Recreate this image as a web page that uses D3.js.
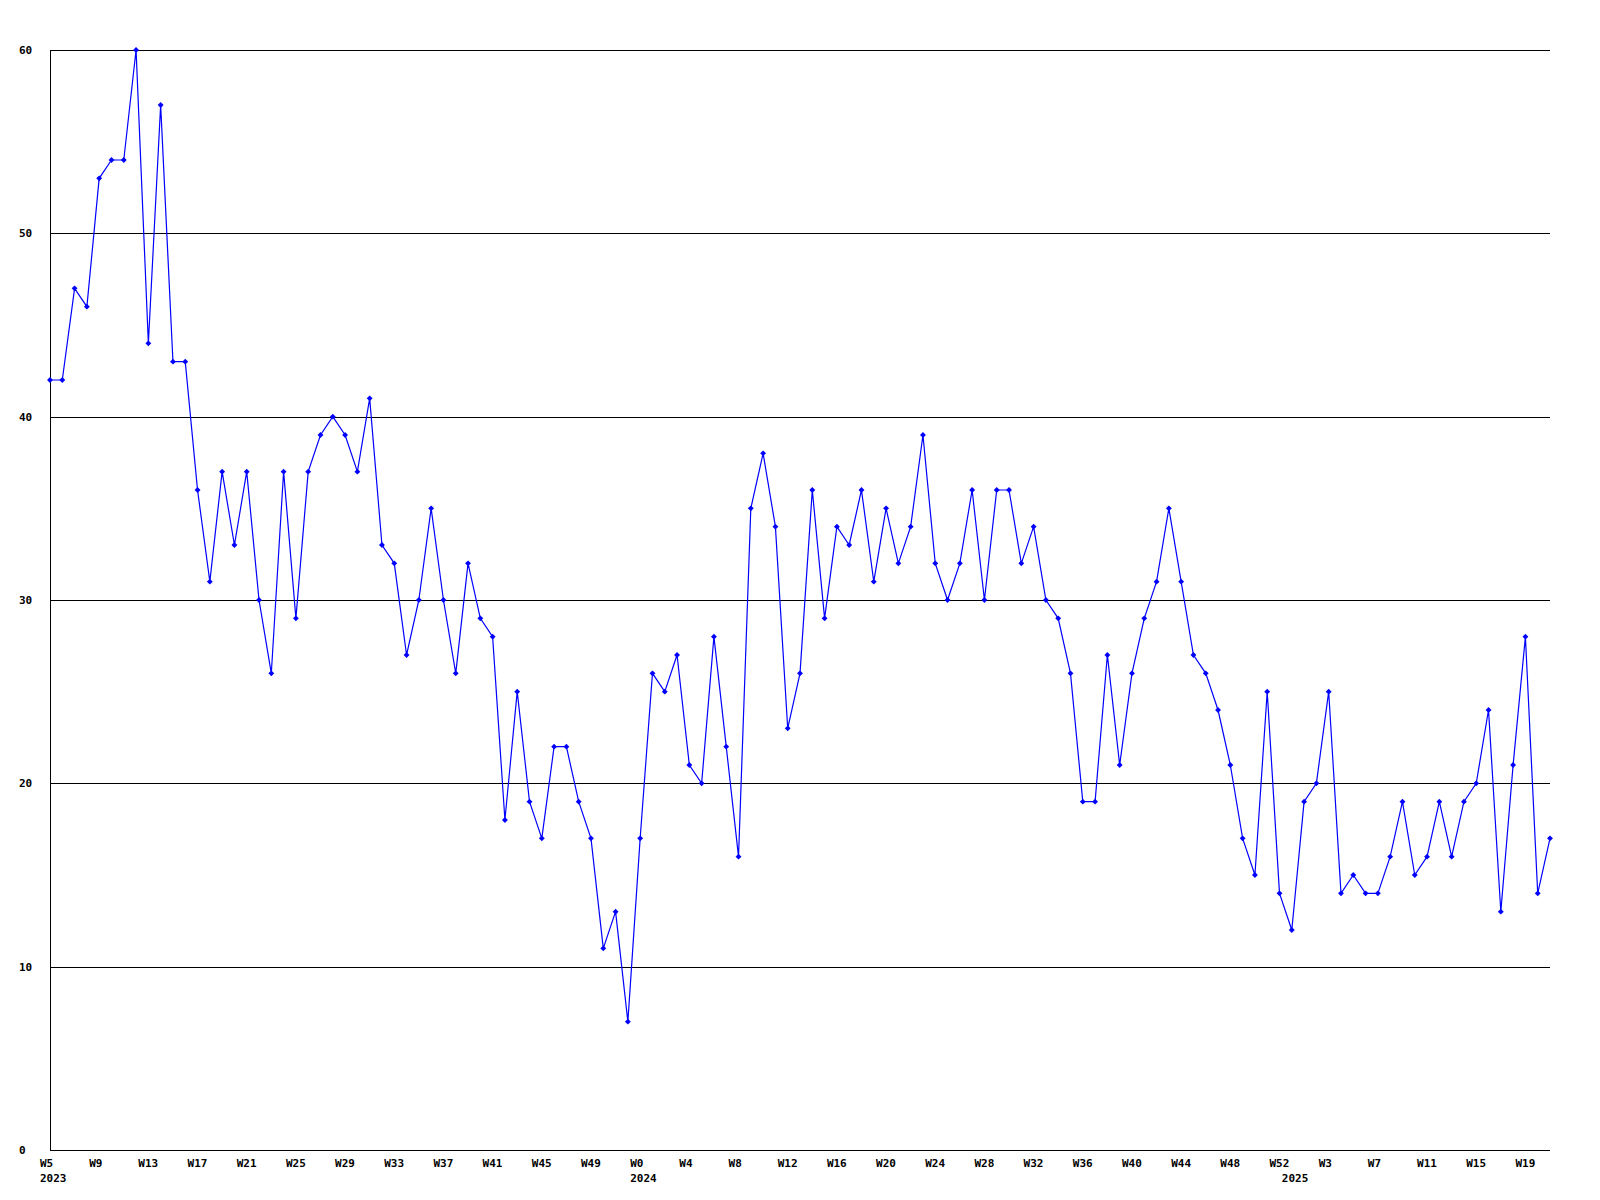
<!DOCTYPE html>
<html>
<head>
<meta charset="utf-8">
<script src="https://cdn.jsdelivr.net/npm/d3@7/dist/d3.min.js"></script>
<style>
  html, body { margin: 0; padding: 0; background: #ffffff; }
  svg { display: block; }
  text { font-family: "DejaVu Sans Mono", "Liberation Mono", monospace; font-weight: bold; font-size: 11px; fill: #000; }
</style>
</head>
<body>
<svg id="chart" width="1600" height="1200"></svg>
<script>
// ---- data ----
const years = ["2023", "2024", "2025"];
const weeks2023 = [5,6,7,8,9,10,11,12,13,14,15,16,17,18,19,20,21,22,23,24,25,26,27,28,29,30,31,32,33,34,35,36,37,38,39,40,41,42,43,44,45,46,47,48,49,50,51,52];
const weeks2024 = [0,1,2,3,4,5,6,7,8,9,10,11,12,13,14,15,16,17,18,19,20,21,22,23,24,25,26,27,28,29,30,31,32,33,34,35,36,37,38,39,40,41,42,43,44,45,46,47,48,49,50,51,52];
const weeks2025 = [0,1,2,3,4,5,6,7,8,9,10,11,12,13,14,15,16,17,18,19,20,21];
const values2023 = [42,42,47,46,53,54,54,60,44,57,43,43,36,31,37,33,37,30,26,37,29,37,39,40,39,37,41,33,32,27,30,35,30,26,32,29,28,18,25,19,17,22,22,19,17,11,13,7];
const values2024 = [17,26,25,27,21,20,28,22,16,35,38,34,23,26,36,29,34,33,36,31,35,32,34,39,32,30,32,36,30,36,36,32,34,30,29,26,19,19,27,21,26,29,31,35,31,27,26,24,21,17,15,25,14];
const values2025 = [12,19,20,25,14,15,14,14,16,19,15,16,19,16,19,20,24,13,21,28,14,17];
const yTicks = [0,10,20,30,40,50,60];
const labelEvery = 4;

(function () {
  // ---- build series ----
  const points = [];
  [[years[0], weeks2023, values2023], [years[1], weeks2024, values2024], [years[2], weeks2025, values2025]]
    .forEach(([yr, wks, vals]) => {
      wks.forEach((w, i) => points.push({ year: yr, week: w, value: vals[i], firstOfYear: i === 0 }));
    });
  points.forEach((p, i) => p.idx = i);

  // ---- layout ----
  const svg = d3.select("#chart");
  const mLeft = 50, mRight = 1550, mTop = 50, mBottom = 1150;

  const x = d3.scaleLinear().domain([0, points.length - 1]).range([mLeft, mRight]);
  const y = d3.scaleLinear().domain([0, 60]).range([mBottom, mTop]);

  // gridlines
  svg.append("g").selectAll("line").data(yTicks.filter(t => t > 0)).join("line")
    .attr("x1", mLeft).attr("x2", mRight)
    .attr("y1", d => Math.round(y(d)) + 0.5).attr("y2", d => Math.round(y(d)) + 0.5)
    .attr("stroke", "#000").attr("stroke-width", 1).attr("shape-rendering", "crispEdges");

  // axis lines
  svg.append("line").attr("x1", mLeft + 0.5).attr("x2", mLeft + 0.5).attr("y1", mTop).attr("y2", mBottom + 0.5)
    .attr("stroke", "#000").attr("shape-rendering", "crispEdges");
  svg.append("line").attr("x1", mLeft).attr("x2", mRight).attr("y1", mBottom + 0.5).attr("y2", mBottom + 0.5)
    .attr("stroke", "#000").attr("shape-rendering", "crispEdges");

  // y labels (left aligned)
  svg.append("g").selectAll("text").data(yTicks).join("text")
    .attr("x", 19).attr("y", d => y(d)).attr("dy", "0.36em")
    .text(d => d);

  // x labels
  svg.append("g").selectAll("text").data(points.filter(p => p.idx % labelEvery === 0)).join("text")
    .attr("x", p => x(p.idx) - 10).attr("y", 1167)
    .text(p => "W" + p.week);

  // year labels
  svg.append("g").selectAll("text").data(points.filter(p => p.firstOfYear)).join("text")
    .attr("x", p => x(p.idx) - 10).attr("y", 1182)
    .text(p => p.year);

  // line
  const line = d3.line().x(p => x(p.idx)).y(p => y(p.value));
  svg.append("path").datum(points).attr("d", line)
    .attr("fill", "none").attr("stroke", "#0000ff").attr("stroke-width", 1.2);

  // markers
  const marker = d3.symbol().type(d3.symbolDiamond2).size(22);
  svg.append("g").selectAll("path").data(points).join("path")
    .attr("transform", p => `translate(${x(p.idx)},${y(p.value)})`)
    .attr("d", marker)
    .attr("fill", "#0000ff");
})();
</script>
</body>
</html>
